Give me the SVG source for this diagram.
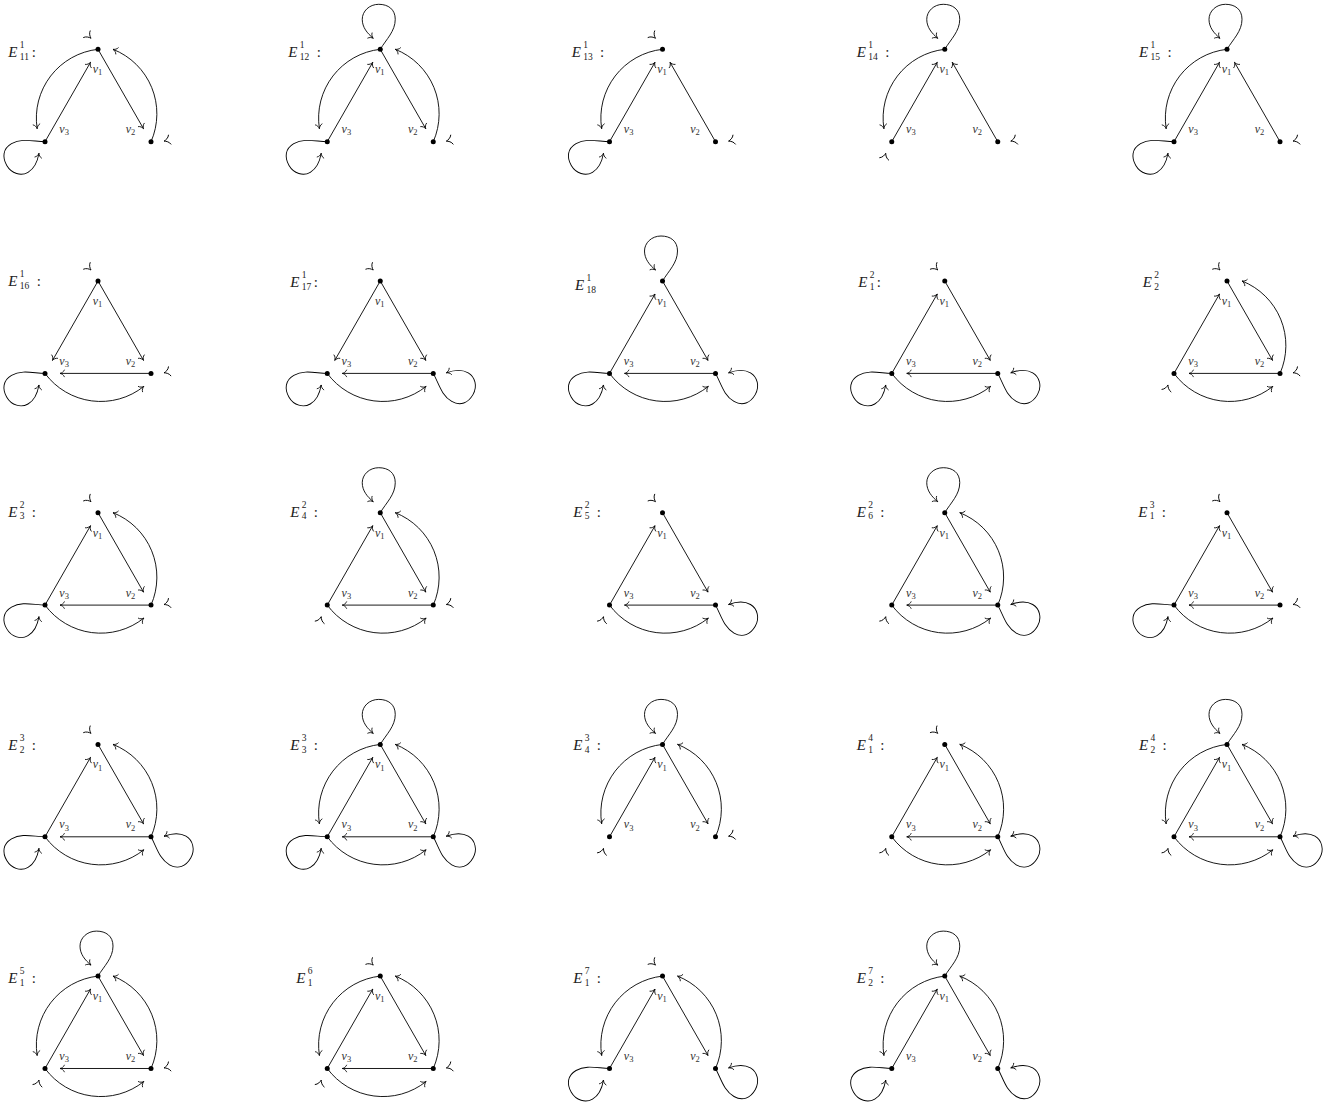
<svg xmlns="http://www.w3.org/2000/svg" width="1340" height="1106" viewBox="0 0 1340 1106">
<style>
.e{fill:none;stroke:#000;stroke-width:0.9;marker-end:url(#ah)}
.g{stroke:none;marker-end:url(#ah2)}
.t{font-family:"Liberation Serif","DejaVu Serif",serif;font-size:15px;fill:#222}
.it{font-style:italic}
.s{font-size:9.5px;font-style:normal}
.vl{font-family:"Liberation Serif","DejaVu Serif",serif;font-size:12px;font-style:italic;fill:#333}
.vs{font-size:8.5px;font-style:normal}
.n circle{fill:#000}
</style>
<defs>
<marker id="ah" viewBox="-6 -6 12 12" markerWidth="12" markerHeight="12" markerUnits="userSpaceOnUse" refX="0" refY="0" orient="auto"><path d="M-4.5,-3.7 C-3.8,-1.5 -1.5,-0.35 0,0 C-1.5,0.35 -3.8,1.5 -4.5,3.7" fill="none" stroke="#000" stroke-width="0.8"/></marker>
<marker id="ah2" viewBox="-8 -8 16 16" markerWidth="16" markerHeight="16" markerUnits="userSpaceOnUse" refX="0" refY="0" orient="auto"><path d="M-6,-5 C-5,-2 -2,-0.5 0,0 C-2,0.5 -5,2 -6,5" fill="none" stroke="#000" stroke-width="0.9"/></marker>
<path id="S13u" d="M-53,92.4 L-7.5,13"/>
<path id="S13d" d="M0,0 L-45.5,79.4"/>
<path id="S12d" d="M0,0 L45.5,79.4"/>
<path id="S12u" d="M53,92.4 L7.5,13"/>
<path id="S23" d="M53,92.4 L-38,92.4"/>
<path id="A21" d="M53,92.4 A69.3,69.3 0 0 0 15,0"/>
<path id="A13" d="M0,0 A69.3,69.3 0 0 0 -60.85,79.4"/>
<path id="A32" d="M-53,92.4 A69.3,69.3 0 0 0 45.85,105.4"/>
<path id="L1" d="M0,0 C6,-10 15,-18 15,-30 C15,-40 8,-45 -1.5,-45 C-11,-45 -18,-38 -18,-30 C-18,-22 -13,-16 -7,-11"/>
<use id="L3" href="#L1" transform="translate(-53,92.4) rotate(-120)"/>
<use id="L2" href="#L1" transform="translate(53,92.4) rotate(120)"/>
<path id="G1" d="M-8,-12 L-7,-11"/>
<use id="G3" href="#G1" transform="translate(-53,92.4) rotate(-120)"/>
<use id="G2" href="#G1" transform="translate(53,92.4) rotate(120)"/>
</defs>
<rect width="1340" height="1106" fill="#fff"/>

<g id="E1-11" transform="translate(98,49.3)">
<text class="t" y="8"><tspan class="it" x="-89.7">E</tspan><tspan class="s" x="-78.2" y="-1">1</tspan><tspan class="s" x="-78.2" y="10.7">11</tspan><tspan x="-66.3" y="8">:</tspan></text>
<g id="E1-11-edges" class="e"><use href="#A13"/><use href="#A21"/><use href="#S13u"/><use href="#S12d"/><use href="#L3"/><use class="g" href="#G1"/><use class="g" href="#G2"/></g>
<g id="E1-11-v1" class="n"><circle r="2.5"/><text class="vl" x="-5.3" y="24">v<tspan class="vs" dy="2.2">1</tspan></text></g>
<g id="E1-11-v3" class="n"><circle cx="-53" cy="92.4" r="2.5"/><text class="vl" x="-38.7" y="84">v<tspan class="vs" dy="2.2">3</tspan></text></g>
<g id="E1-11-v2" class="n"><circle cx="53" cy="92.4" r="2.5"/><text class="vl" x="27.7" y="84">v<tspan class="vs" dy="2.2">2</tspan></text></g>
</g>

<g id="E1-12" transform="translate(380.25,49.3)">
<text class="t" y="8"><tspan class="it" x="-92">E</tspan><tspan class="s" x="-80.5" y="-1">1</tspan><tspan class="s" x="-80.5" y="10.7">12</tspan><tspan x="-63.6" y="8">:</tspan></text>
<g id="E1-12-edges" class="e"><use href="#A13"/><use href="#A21"/><use href="#S13u"/><use href="#S12d"/><use href="#L1"/><use href="#L3"/><use class="g" href="#G2"/></g>
<g id="E1-12-v1" class="n"><circle r="2.5"/><text class="vl" x="-5.3" y="24">v<tspan class="vs" dy="2.2">1</tspan></text></g>
<g id="E1-12-v3" class="n"><circle cx="-53" cy="92.4" r="2.5"/><text class="vl" x="-38.7" y="84">v<tspan class="vs" dy="2.2">3</tspan></text></g>
<g id="E1-12-v2" class="n"><circle cx="53" cy="92.4" r="2.5"/><text class="vl" x="27.7" y="84">v<tspan class="vs" dy="2.2">2</tspan></text></g>
</g>

<g id="E1-13" transform="translate(662.5,49.3)">
<text class="t" y="8"><tspan class="it" x="-90.8">E</tspan><tspan class="s" x="-79.3" y="-1">1</tspan><tspan class="s" x="-79.3" y="10.7">13</tspan><tspan x="-62.4" y="8">:</tspan></text>
<g id="E1-13-edges" class="e"><use href="#A13"/><use href="#S13u"/><use href="#S12u"/><use href="#L3"/><use class="g" href="#G1"/><use class="g" href="#G2"/></g>
<g id="E1-13-v1" class="n"><circle r="2.5"/><text class="vl" x="-5.3" y="24">v<tspan class="vs" dy="2.2">1</tspan></text></g>
<g id="E1-13-v3" class="n"><circle cx="-53" cy="92.4" r="2.5"/><text class="vl" x="-38.7" y="84">v<tspan class="vs" dy="2.2">3</tspan></text></g>
<g id="E1-13-v2" class="n"><circle cx="53" cy="92.4" r="2.5"/><text class="vl" x="27.7" y="84">v<tspan class="vs" dy="2.2">2</tspan></text></g>
</g>

<g id="E1-14" transform="translate(944.75,49.3)">
<text class="t" y="8"><tspan class="it" x="-88">E</tspan><tspan class="s" x="-76.5" y="-1">1</tspan><tspan class="s" x="-76.5" y="10.7">14</tspan><tspan x="-59.6" y="8">:</tspan></text>
<g id="E1-14-edges" class="e"><use href="#A13"/><use href="#S13u"/><use href="#S12u"/><use href="#L1"/><use class="g" href="#G2"/><use class="g" href="#G3"/></g>
<g id="E1-14-v1" class="n"><circle r="2.5"/><text class="vl" x="-5.3" y="24">v<tspan class="vs" dy="2.2">1</tspan></text></g>
<g id="E1-14-v3" class="n"><circle cx="-53" cy="92.4" r="2.5"/><text class="vl" x="-38.7" y="84">v<tspan class="vs" dy="2.2">3</tspan></text></g>
<g id="E1-14-v2" class="n"><circle cx="53" cy="92.4" r="2.5"/><text class="vl" x="27.7" y="84">v<tspan class="vs" dy="2.2">2</tspan></text></g>
</g>

<g id="E1-15" transform="translate(1227,49.3)">
<text class="t" y="8"><tspan class="it" x="-88">E</tspan><tspan class="s" x="-76.5" y="-1">1</tspan><tspan class="s" x="-76.5" y="10.7">15</tspan><tspan x="-59.6" y="8">:</tspan></text>
<g id="E1-15-edges" class="e"><use href="#A13"/><use href="#S13u"/><use href="#S12u"/><use href="#L1"/><use href="#L3"/><use class="g" href="#G2"/></g>
<g id="E1-15-v1" class="n"><circle r="2.5"/><text class="vl" x="-5.3" y="24">v<tspan class="vs" dy="2.2">1</tspan></text></g>
<g id="E1-15-v3" class="n"><circle cx="-53" cy="92.4" r="2.5"/><text class="vl" x="-38.7" y="84">v<tspan class="vs" dy="2.2">3</tspan></text></g>
<g id="E1-15-v2" class="n"><circle cx="53" cy="92.4" r="2.5"/><text class="vl" x="27.7" y="84">v<tspan class="vs" dy="2.2">2</tspan></text></g>
</g>

<g id="E1-16" transform="translate(98,281)">
<text class="t" y="5"><tspan class="it" x="-89.7">E</tspan><tspan class="s" x="-78.2" y="-4">1</tspan><tspan class="s" x="-78.2" y="7.7">16</tspan><tspan x="-61.3" y="5">:</tspan></text>
<g id="E1-16-edges" class="e"><use href="#S13d"/><use href="#S12d"/><use href="#S23"/><use href="#A32"/><use href="#L3"/><use class="g" href="#G1"/><use class="g" href="#G2"/></g>
<g id="E1-16-v1" class="n"><circle r="2.5"/><text class="vl" x="-5.3" y="24">v<tspan class="vs" dy="2.2">1</tspan></text></g>
<g id="E1-16-v3" class="n"><circle cx="-53" cy="92.4" r="2.5"/><text class="vl" x="-38.7" y="84">v<tspan class="vs" dy="2.2">3</tspan></text></g>
<g id="E1-16-v2" class="n"><circle cx="53" cy="92.4" r="2.5"/><text class="vl" x="27.7" y="84">v<tspan class="vs" dy="2.2">2</tspan></text></g>
</g>

<g id="E1-17" transform="translate(380.25,281)">
<text class="t" y="6"><tspan class="it" x="-90">E</tspan><tspan class="s" x="-78.5" y="-3">1</tspan><tspan class="s" x="-78.5" y="8.7">17</tspan><tspan x="-66.6" y="6">:</tspan></text>
<g id="E1-17-edges" class="e"><use href="#S13d"/><use href="#S12d"/><use href="#S23"/><use href="#A32"/><use href="#L2"/><use href="#L3"/><use class="g" href="#G1"/></g>
<g id="E1-17-v1" class="n"><circle r="2.5"/><text class="vl" x="-5.3" y="24">v<tspan class="vs" dy="2.2">1</tspan></text></g>
<g id="E1-17-v3" class="n"><circle cx="-53" cy="92.4" r="2.5"/><text class="vl" x="-38.7" y="84">v<tspan class="vs" dy="2.2">3</tspan></text></g>
<g id="E1-17-v2" class="n"><circle cx="53" cy="92.4" r="2.5"/><text class="vl" x="27.7" y="84">v<tspan class="vs" dy="2.2">2</tspan></text></g>
</g>

<g id="E1-18" transform="translate(662.5,281)">
<text class="t" y="9"><tspan class="it" x="-87.5">E</tspan><tspan class="s" x="-76" y="0">1</tspan><tspan class="s" x="-76" y="11.7">18</tspan></text>
<g id="E1-18-edges" class="e"><use href="#S13u"/><use href="#S12d"/><use href="#S23"/><use href="#A32"/><use href="#L1"/><use href="#L2"/><use href="#L3"/></g>
<g id="E1-18-v1" class="n"><circle r="2.5"/><text class="vl" x="-5.3" y="24">v<tspan class="vs" dy="2.2">1</tspan></text></g>
<g id="E1-18-v3" class="n"><circle cx="-53" cy="92.4" r="2.5"/><text class="vl" x="-38.7" y="84">v<tspan class="vs" dy="2.2">3</tspan></text></g>
<g id="E1-18-v2" class="n"><circle cx="53" cy="92.4" r="2.5"/><text class="vl" x="27.7" y="84">v<tspan class="vs" dy="2.2">2</tspan></text></g>
</g>

<g id="E2-1" transform="translate(944.75,281)">
<text class="t" y="6"><tspan class="it" x="-86.4">E</tspan><tspan class="s" x="-74.9" y="-3">2</tspan><tspan class="s" x="-74.9" y="8.7">1</tspan><tspan x="-68" y="6">:</tspan></text>
<g id="E2-1-edges" class="e"><use href="#S13u"/><use href="#S12d"/><use href="#S23"/><use href="#A32"/><use href="#L2"/><use href="#L3"/><use class="g" href="#G1"/></g>
<g id="E2-1-v1" class="n"><circle r="2.5"/><text class="vl" x="-5.3" y="24">v<tspan class="vs" dy="2.2">1</tspan></text></g>
<g id="E2-1-v3" class="n"><circle cx="-53" cy="92.4" r="2.5"/><text class="vl" x="-38.7" y="84">v<tspan class="vs" dy="2.2">3</tspan></text></g>
<g id="E2-1-v2" class="n"><circle cx="53" cy="92.4" r="2.5"/><text class="vl" x="27.7" y="84">v<tspan class="vs" dy="2.2">2</tspan></text></g>
</g>

<g id="E2-2" transform="translate(1227,281)">
<text class="t" y="6"><tspan class="it" x="-84.3">E</tspan><tspan class="s" x="-72.8" y="-3">2</tspan><tspan class="s" x="-72.8" y="8.7">2</tspan></text>
<g id="E2-2-edges" class="e"><use href="#S13u"/><use href="#S12d"/><use href="#S23"/><use href="#A32"/><use href="#A21"/><use class="g" href="#G1"/><use class="g" href="#G2"/><use class="g" href="#G3"/></g>
<g id="E2-2-v1" class="n"><circle r="2.5"/><text class="vl" x="-5.3" y="24">v<tspan class="vs" dy="2.2">1</tspan></text></g>
<g id="E2-2-v3" class="n"><circle cx="-53" cy="92.4" r="2.5"/><text class="vl" x="-38.7" y="84">v<tspan class="vs" dy="2.2">3</tspan></text></g>
<g id="E2-2-v2" class="n"><circle cx="53" cy="92.4" r="2.5"/><text class="vl" x="27.7" y="84">v<tspan class="vs" dy="2.2">2</tspan></text></g>
</g>

<g id="E2-3" transform="translate(98,512.7)">
<text class="t" y="4"><tspan class="it" x="-89.7">E</tspan><tspan class="s" x="-78.2" y="-5">2</tspan><tspan class="s" x="-78.2" y="6.7">3</tspan><tspan x="-66.3" y="4">:</tspan></text>
<g id="E2-3-edges" class="e"><use href="#S13u"/><use href="#S12d"/><use href="#S23"/><use href="#A32"/><use href="#A21"/><use href="#L3"/><use class="g" href="#G1"/><use class="g" href="#G2"/></g>
<g id="E2-3-v1" class="n"><circle r="2.5"/><text class="vl" x="-5.3" y="24">v<tspan class="vs" dy="2.2">1</tspan></text></g>
<g id="E2-3-v3" class="n"><circle cx="-53" cy="92.4" r="2.5"/><text class="vl" x="-38.7" y="84">v<tspan class="vs" dy="2.2">3</tspan></text></g>
<g id="E2-3-v2" class="n"><circle cx="53" cy="92.4" r="2.5"/><text class="vl" x="27.7" y="84">v<tspan class="vs" dy="2.2">2</tspan></text></g>
</g>

<g id="E2-4" transform="translate(380.25,512.7)">
<text class="t" y="4"><tspan class="it" x="-90">E</tspan><tspan class="s" x="-78.5" y="-5">2</tspan><tspan class="s" x="-78.5" y="6.7">4</tspan><tspan x="-66.6" y="4">:</tspan></text>
<g id="E2-4-edges" class="e"><use href="#S13u"/><use href="#S12d"/><use href="#S23"/><use href="#A32"/><use href="#A21"/><use href="#L1"/><use class="g" href="#G2"/><use class="g" href="#G3"/></g>
<g id="E2-4-v1" class="n"><circle r="2.5"/><text class="vl" x="-5.3" y="24">v<tspan class="vs" dy="2.2">1</tspan></text></g>
<g id="E2-4-v3" class="n"><circle cx="-53" cy="92.4" r="2.5"/><text class="vl" x="-38.7" y="84">v<tspan class="vs" dy="2.2">3</tspan></text></g>
<g id="E2-4-v2" class="n"><circle cx="53" cy="92.4" r="2.5"/><text class="vl" x="27.7" y="84">v<tspan class="vs" dy="2.2">2</tspan></text></g>
</g>

<g id="E2-5" transform="translate(662.5,512.7)">
<text class="t" y="4"><tspan class="it" x="-89.2">E</tspan><tspan class="s" x="-77.7" y="-5">2</tspan><tspan class="s" x="-77.7" y="6.7">5</tspan><tspan x="-65.8" y="4">:</tspan></text>
<g id="E2-5-edges" class="e"><use href="#S13u"/><use href="#S12d"/><use href="#S23"/><use href="#A32"/><use href="#L2"/><use class="g" href="#G1"/><use class="g" href="#G3"/></g>
<g id="E2-5-v1" class="n"><circle r="2.5"/><text class="vl" x="-5.3" y="24">v<tspan class="vs" dy="2.2">1</tspan></text></g>
<g id="E2-5-v3" class="n"><circle cx="-53" cy="92.4" r="2.5"/><text class="vl" x="-38.7" y="84">v<tspan class="vs" dy="2.2">3</tspan></text></g>
<g id="E2-5-v2" class="n"><circle cx="53" cy="92.4" r="2.5"/><text class="vl" x="27.7" y="84">v<tspan class="vs" dy="2.2">2</tspan></text></g>
</g>

<g id="E2-6" transform="translate(944.75,512.7)">
<text class="t" y="4"><tspan class="it" x="-88">E</tspan><tspan class="s" x="-76.5" y="-5">2</tspan><tspan class="s" x="-76.5" y="6.7">6</tspan><tspan x="-64.6" y="4">:</tspan></text>
<g id="E2-6-edges" class="e"><use href="#S13u"/><use href="#S12d"/><use href="#S23"/><use href="#A32"/><use href="#A21"/><use href="#L1"/><use href="#L2"/><use class="g" href="#G3"/></g>
<g id="E2-6-v1" class="n"><circle r="2.5"/><text class="vl" x="-5.3" y="24">v<tspan class="vs" dy="2.2">1</tspan></text></g>
<g id="E2-6-v3" class="n"><circle cx="-53" cy="92.4" r="2.5"/><text class="vl" x="-38.7" y="84">v<tspan class="vs" dy="2.2">3</tspan></text></g>
<g id="E2-6-v2" class="n"><circle cx="53" cy="92.4" r="2.5"/><text class="vl" x="27.7" y="84">v<tspan class="vs" dy="2.2">2</tspan></text></g>
</g>

<g id="E3-1" transform="translate(1227,512.7)">
<text class="t" y="4"><tspan class="it" x="-88.7">E</tspan><tspan class="s" x="-77.2" y="-5">3</tspan><tspan class="s" x="-77.2" y="6.7">1</tspan><tspan x="-65.3" y="4">:</tspan></text>
<g id="E3-1-edges" class="e"><use href="#S13u"/><use href="#S12d"/><use href="#S23"/><use href="#A32"/><use href="#L3"/><use class="g" href="#G1"/><use class="g" href="#G2"/></g>
<g id="E3-1-v1" class="n"><circle r="2.5"/><text class="vl" x="-5.3" y="24">v<tspan class="vs" dy="2.2">1</tspan></text></g>
<g id="E3-1-v3" class="n"><circle cx="-53" cy="92.4" r="2.5"/><text class="vl" x="-38.7" y="84">v<tspan class="vs" dy="2.2">3</tspan></text></g>
<g id="E3-1-v2" class="n"><circle cx="53" cy="92.4" r="2.5"/><text class="vl" x="27.7" y="84">v<tspan class="vs" dy="2.2">2</tspan></text></g>
</g>

<g id="E3-2" transform="translate(98,744.4)">
<text class="t" y="5.5"><tspan class="it" x="-89.7">E</tspan><tspan class="s" x="-78.2" y="-3.5">3</tspan><tspan class="s" x="-78.2" y="8.2">2</tspan><tspan x="-66.3" y="5.5">:</tspan></text>
<g id="E3-2-edges" class="e"><use href="#S13u"/><use href="#S12d"/><use href="#S23"/><use href="#A32"/><use href="#A21"/><use href="#L2"/><use href="#L3"/><use class="g" href="#G1"/></g>
<g id="E3-2-v1" class="n"><circle r="2.5"/><text class="vl" x="-5.3" y="24">v<tspan class="vs" dy="2.2">1</tspan></text></g>
<g id="E3-2-v3" class="n"><circle cx="-53" cy="92.4" r="2.5"/><text class="vl" x="-38.7" y="84">v<tspan class="vs" dy="2.2">3</tspan></text></g>
<g id="E3-2-v2" class="n"><circle cx="53" cy="92.4" r="2.5"/><text class="vl" x="27.7" y="84">v<tspan class="vs" dy="2.2">2</tspan></text></g>
</g>

<g id="E3-3" transform="translate(380.25,744.4)">
<text class="t" y="5.5"><tspan class="it" x="-90">E</tspan><tspan class="s" x="-78.5" y="-3.5">3</tspan><tspan class="s" x="-78.5" y="8.2">3</tspan><tspan x="-66.6" y="5.5">:</tspan></text>
<g id="E3-3-edges" class="e"><use href="#A13"/><use href="#A21"/><use href="#S13u"/><use href="#S12d"/><use href="#S23"/><use href="#A32"/><use href="#L1"/><use href="#L2"/><use href="#L3"/></g>
<g id="E3-3-v1" class="n"><circle r="2.5"/><text class="vl" x="-5.3" y="24">v<tspan class="vs" dy="2.2">1</tspan></text></g>
<g id="E3-3-v3" class="n"><circle cx="-53" cy="92.4" r="2.5"/><text class="vl" x="-38.7" y="84">v<tspan class="vs" dy="2.2">3</tspan></text></g>
<g id="E3-3-v2" class="n"><circle cx="53" cy="92.4" r="2.5"/><text class="vl" x="27.7" y="84">v<tspan class="vs" dy="2.2">2</tspan></text></g>
</g>

<g id="E3-4" transform="translate(662.5,744.4)">
<text class="t" y="5.5"><tspan class="it" x="-89.2">E</tspan><tspan class="s" x="-77.7" y="-3.5">3</tspan><tspan class="s" x="-77.7" y="8.2">4</tspan><tspan x="-65.8" y="5.5">:</tspan></text>
<g id="E3-4-edges" class="e"><use href="#A13"/><use href="#A21"/><use href="#S13u"/><use href="#S12d"/><use href="#L1"/><use class="g" href="#G2"/><use class="g" href="#G3"/></g>
<g id="E3-4-v1" class="n"><circle r="2.5"/><text class="vl" x="-5.3" y="24">v<tspan class="vs" dy="2.2">1</tspan></text></g>
<g id="E3-4-v3" class="n"><circle cx="-53" cy="92.4" r="2.5"/><text class="vl" x="-38.7" y="84">v<tspan class="vs" dy="2.2">3</tspan></text></g>
<g id="E3-4-v2" class="n"><circle cx="53" cy="92.4" r="2.5"/><text class="vl" x="27.7" y="84">v<tspan class="vs" dy="2.2">2</tspan></text></g>
</g>

<g id="E4-1" transform="translate(944.75,744.4)">
<text class="t" y="5.5"><tspan class="it" x="-88">E</tspan><tspan class="s" x="-76.5" y="-3.5">4</tspan><tspan class="s" x="-76.5" y="8.2">1</tspan><tspan x="-64.6" y="5.5">:</tspan></text>
<g id="E4-1-edges" class="e"><use href="#S13u"/><use href="#S12d"/><use href="#S23"/><use href="#A32"/><use href="#A21"/><use href="#L2"/><use class="g" href="#G1"/><use class="g" href="#G3"/></g>
<g id="E4-1-v1" class="n"><circle r="2.5"/><text class="vl" x="-5.3" y="24">v<tspan class="vs" dy="2.2">1</tspan></text></g>
<g id="E4-1-v3" class="n"><circle cx="-53" cy="92.4" r="2.5"/><text class="vl" x="-38.7" y="84">v<tspan class="vs" dy="2.2">3</tspan></text></g>
<g id="E4-1-v2" class="n"><circle cx="53" cy="92.4" r="2.5"/><text class="vl" x="27.7" y="84">v<tspan class="vs" dy="2.2">2</tspan></text></g>
</g>

<g id="E4-2" transform="translate(1227,744.4)">
<text class="t" y="5.5"><tspan class="it" x="-88">E</tspan><tspan class="s" x="-76.5" y="-3.5">4</tspan><tspan class="s" x="-76.5" y="8.2">2</tspan><tspan x="-64.6" y="5.5">:</tspan></text>
<g id="E4-2-edges" class="e"><use href="#A13"/><use href="#A21"/><use href="#S13u"/><use href="#S12d"/><use href="#S23"/><use href="#A32"/><use href="#L1"/><use href="#L2"/><use class="g" href="#G3"/></g>
<g id="E4-2-v1" class="n"><circle r="2.5"/><text class="vl" x="-5.3" y="24">v<tspan class="vs" dy="2.2">1</tspan></text></g>
<g id="E4-2-v3" class="n"><circle cx="-53" cy="92.4" r="2.5"/><text class="vl" x="-38.7" y="84">v<tspan class="vs" dy="2.2">3</tspan></text></g>
<g id="E4-2-v2" class="n"><circle cx="53" cy="92.4" r="2.5"/><text class="vl" x="27.7" y="84">v<tspan class="vs" dy="2.2">2</tspan></text></g>
</g>

<g id="E5-1" transform="translate(98,976.1)">
<text class="t" y="7"><tspan class="it" x="-89.7">E</tspan><tspan class="s" x="-78.2" y="-2">5</tspan><tspan class="s" x="-78.2" y="9.7">1</tspan><tspan x="-66.3" y="7">:</tspan></text>
<g id="E5-1-edges" class="e"><use href="#A13"/><use href="#A21"/><use href="#S13u"/><use href="#S12d"/><use href="#S23"/><use href="#A32"/><use href="#L1"/><use class="g" href="#G2"/><use class="g" href="#G3"/></g>
<g id="E5-1-v1" class="n"><circle r="2.5"/><text class="vl" x="-5.3" y="24">v<tspan class="vs" dy="2.2">1</tspan></text></g>
<g id="E5-1-v3" class="n"><circle cx="-53" cy="92.4" r="2.5"/><text class="vl" x="-38.7" y="84">v<tspan class="vs" dy="2.2">3</tspan></text></g>
<g id="E5-1-v2" class="n"><circle cx="53" cy="92.4" r="2.5"/><text class="vl" x="27.7" y="84">v<tspan class="vs" dy="2.2">2</tspan></text></g>
</g>

<g id="E6-1" transform="translate(380.25,976.1)">
<text class="t" y="7"><tspan class="it" x="-84">E</tspan><tspan class="s" x="-72.5" y="-2">6</tspan><tspan class="s" x="-72.5" y="9.7">1</tspan></text>
<g id="E6-1-edges" class="e"><use href="#A13"/><use href="#A21"/><use href="#S13u"/><use href="#S12d"/><use href="#S23"/><use href="#A32"/><use class="g" href="#G1"/><use class="g" href="#G2"/><use class="g" href="#G3"/></g>
<g id="E6-1-v1" class="n"><circle r="2.5"/><text class="vl" x="-5.3" y="24">v<tspan class="vs" dy="2.2">1</tspan></text></g>
<g id="E6-1-v3" class="n"><circle cx="-53" cy="92.4" r="2.5"/><text class="vl" x="-38.7" y="84">v<tspan class="vs" dy="2.2">3</tspan></text></g>
<g id="E6-1-v2" class="n"><circle cx="53" cy="92.4" r="2.5"/><text class="vl" x="27.7" y="84">v<tspan class="vs" dy="2.2">2</tspan></text></g>
</g>

<g id="E7-1" transform="translate(662.5,976.1)">
<text class="t" y="7"><tspan class="it" x="-89.2">E</tspan><tspan class="s" x="-77.7" y="-2">7</tspan><tspan class="s" x="-77.7" y="9.7">1</tspan><tspan x="-65.8" y="7">:</tspan></text>
<g id="E7-1-edges" class="e"><use href="#A13"/><use href="#A21"/><use href="#S13u"/><use href="#S12d"/><use href="#L2"/><use href="#L3"/><use class="g" href="#G1"/></g>
<g id="E7-1-v1" class="n"><circle r="2.5"/><text class="vl" x="-5.3" y="24">v<tspan class="vs" dy="2.2">1</tspan></text></g>
<g id="E7-1-v3" class="n"><circle cx="-53" cy="92.4" r="2.5"/><text class="vl" x="-38.7" y="84">v<tspan class="vs" dy="2.2">3</tspan></text></g>
<g id="E7-1-v2" class="n"><circle cx="53" cy="92.4" r="2.5"/><text class="vl" x="27.7" y="84">v<tspan class="vs" dy="2.2">2</tspan></text></g>
</g>

<g id="E7-2" transform="translate(944.75,976.1)">
<text class="t" y="7"><tspan class="it" x="-88">E</tspan><tspan class="s" x="-76.5" y="-2">7</tspan><tspan class="s" x="-76.5" y="9.7">2</tspan><tspan x="-64.6" y="7">:</tspan></text>
<g id="E7-2-edges" class="e"><use href="#A13"/><use href="#A21"/><use href="#S13u"/><use href="#S12d"/><use href="#L1"/><use href="#L2"/><use href="#L3"/></g>
<g id="E7-2-v1" class="n"><circle r="2.5"/><text class="vl" x="-5.3" y="24">v<tspan class="vs" dy="2.2">1</tspan></text></g>
<g id="E7-2-v3" class="n"><circle cx="-53" cy="92.4" r="2.5"/><text class="vl" x="-38.7" y="84">v<tspan class="vs" dy="2.2">3</tspan></text></g>
<g id="E7-2-v2" class="n"><circle cx="53" cy="92.4" r="2.5"/><text class="vl" x="27.7" y="84">v<tspan class="vs" dy="2.2">2</tspan></text></g>
</g>
</svg>
